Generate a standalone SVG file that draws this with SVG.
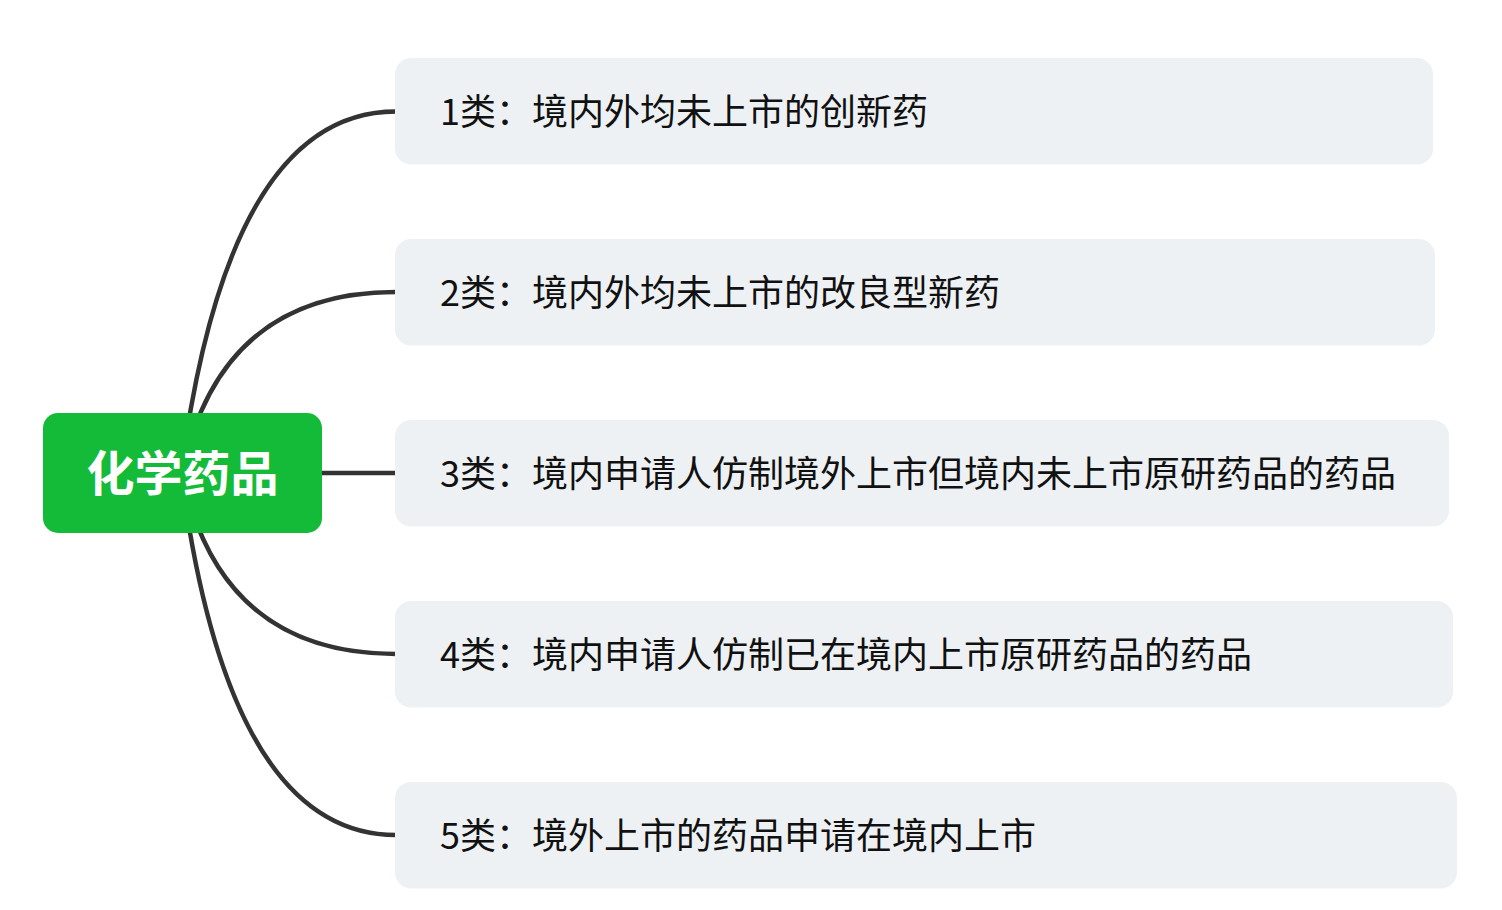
<svg xmlns="http://www.w3.org/2000/svg" width="1502" height="910" viewBox="0 0 1502 910">
<style>
.conn{fill:none;stroke:#333333;stroke-width:4.5;stroke-linecap:butt}
.box{fill:#eef1f4}
.lbl{font-family:"Noto Sans CJK SC","Microsoft YaHei",sans-serif;font-size:36px;fill:#111111}
.root{fill:#13bb38}
.rootlbl{font-family:"Noto Sans CJK SC",sans-serif;font-size:48px;font-weight:bold;fill:#ffffff}
</style>
<rect width="1502" height="910" fill="#ffffff"/>
<g id="connectors">
<path class="conn" d="M 181 473 Q 228 111.5 396 111.5"/>
<path class="conn" d="M 182 473 Q 220 292 396 292"/>
<path class="conn" d="M 322 473 L 396 473"/>
<path class="conn" d="M 182 473 Q 220 654 396 654"/>
<path class="conn" d="M 181 473 Q 228 835 396 835"/>
</g>
<g id="root">
<rect class="root" x="43" y="413" width="279" height="120" rx="15"/>
<text class="rootlbl" x="182.5" y="491" text-anchor="middle">化学药品</text>
</g>
<g id="n1">
<rect class="box" x="395" y="58" width="1038" height="106.5" rx="16"/>
<text class="lbl" x="440" y="125">1类：境内外均未上市的创新药</text>
</g>
<g id="n2">
<rect class="box" x="395" y="239" width="1040" height="106.5" rx="16"/>
<text class="lbl" x="440" y="306">2类：境内外均未上市的改良型新药</text>
</g>
<g id="n3">
<rect class="box" x="395" y="420" width="1054" height="106.5" rx="16"/>
<text class="lbl" x="440" y="487">3类：境内申请人仿制境外上市但境内未上市原研药品的药品</text>
</g>
<g id="n4">
<rect class="box" x="395" y="601" width="1058" height="106.5" rx="16"/>
<text class="lbl" x="440" y="668">4类：境内申请人仿制已在境内上市原研药品的药品</text>
</g>
<g id="n5">
<rect class="box" x="395" y="782" width="1062" height="106.5" rx="16"/>
<text class="lbl" x="440" y="849">5类：境外上市的药品申请在境内上市</text>
</g>
</svg>
